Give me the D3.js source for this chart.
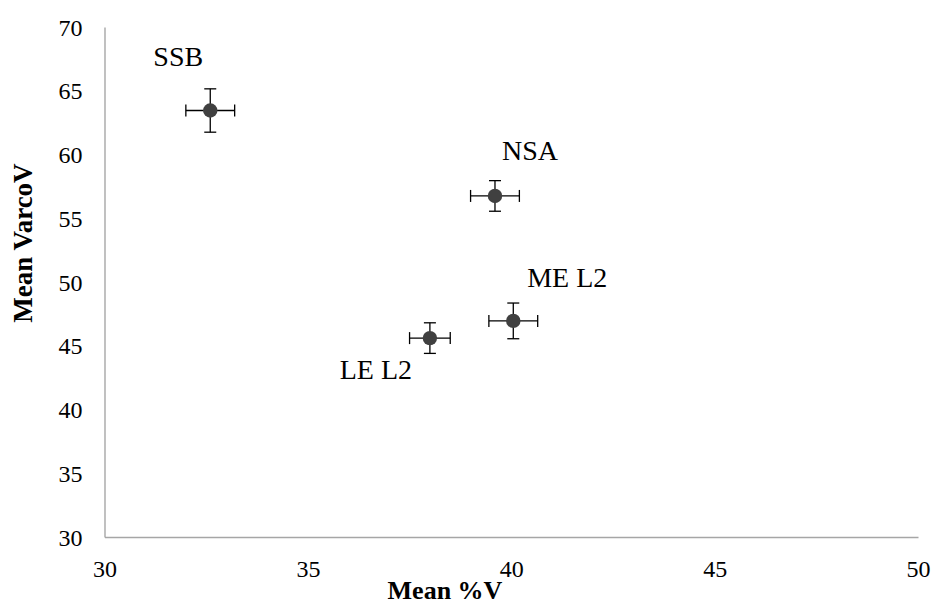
<!DOCTYPE html>
<html>
<head>
<meta charset="utf-8">
<script src="https://cdn.jsdelivr.net/npm/d3@7"></script>
<style>
  body { margin: 0; background: #fff; }
</style>
</head>
<body>
<div id="chart"></div>
<script>
// data
const groups = ["SSB", "NSA", "ME L2", "LE L2"];
const meanV = [32.6, 39.6, 40.05, 38.0];
const meanVarcoV = [63.45, 56.75, 46.95, 45.6];
const errV = [0.6, 0.6, 0.6, 0.5];
const errVarcoV = [1.7, 1.2, 1.4, 1.2];
const xTicks = [30, 35, 40, 45, 50];
const yTicks = [30, 35, 40, 45, 50, 55, 60, 65, 70];

const width = 935, height = 604;
const serif = '"Liberation Serif", "Times New Roman", "DejaVu Serif", serif';

let svg = d3.select("#chart").append("svg")
    .attr("width", width)
    .attr("height", height)
    .style("font-family", serif);

let x = d3.scaleLinear().domain([30, 50]).range([104.5, 918]);
let y = d3.scaleLinear().domain([30, 70]).range([537, 27]);

// axes (no ticks, grey domain line)
let xAxis = svg.append("g")
    .attr("transform", "translate(0," + y(30) + ")")
    .call(d3.axisBottom(x).tickValues(xTicks).tickSize(0).tickFormat(d3.format("d")))
    .attr("font-family", serif);
xAxis.selectAll("text")
    .attr("y", 40).attr("dy", 0)
    .attr("fill", "#000")
    .style("font-family", serif)
    .style("font-size", "24px");

let yAxis = svg.append("g")
    .attr("transform", "translate(" + x(30) + ",0)")
    .call(d3.axisLeft(y).tickValues(yTicks).tickSize(0).tickFormat(d3.format("d")))
    .attr("font-family", serif);
yAxis.selectAll("text")
    .attr("x", -22).attr("dy", "0.34em")
    .attr("fill", "#000")
    .style("font-family", serif)
    .style("font-size", "24px");

svg.selectAll(".domain").attr("stroke", "#a6a6a6").attr("stroke-width", 1.4);

// axis titles
svg.append("text")
    .attr("x", 445).attr("y", 599)
    .attr("text-anchor", "middle")
    .style("font-family", serif)
    .style("font-size", "26px").style("font-weight", "bold")
    .text("Mean %V");

svg.append("text")
    .attr("transform", "translate(32,243) rotate(-90)")
    .attr("text-anchor", "middle")
    .style("font-family", serif)
    .style("font-size", "27px").style("font-weight", "bold")
    .text("Mean VarcoV");

let data = groups.map((g, i) => ({
    name: g, x: meanV[i], y: meanVarcoV[i], ex: errV[i], ey: errVarcoV[i]
}));

// label placement relative to the marker (px)
let labelOffset = {
    "SSB": [-32, -45],
    "NSA": [35, -36],
    "ME L2": [54, -34],
    "LE L2": [-54, 41]
};

let cap = 6;
let pts = svg.append("g").selectAll("g").data(data).enter().append("g");

pts.append("line")
    .attr("x1", d => x(d.x - d.ex)).attr("x2", d => x(d.x + d.ex))
    .attr("y1", d => y(d.y)).attr("y2", d => y(d.y));
pts.append("line")
    .attr("x1", d => x(d.x - d.ex)).attr("x2", d => x(d.x - d.ex))
    .attr("y1", d => y(d.y) - cap).attr("y2", d => y(d.y) + cap);
pts.append("line")
    .attr("x1", d => x(d.x + d.ex)).attr("x2", d => x(d.x + d.ex))
    .attr("y1", d => y(d.y) - cap).attr("y2", d => y(d.y) + cap);
pts.append("line")
    .attr("x1", d => x(d.x)).attr("x2", d => x(d.x))
    .attr("y1", d => y(d.y - d.ey)).attr("y2", d => y(d.y + d.ey));
pts.append("line")
    .attr("x1", d => x(d.x) - cap).attr("x2", d => x(d.x) + cap)
    .attr("y1", d => y(d.y - d.ey)).attr("y2", d => y(d.y - d.ey));
pts.append("line")
    .attr("x1", d => x(d.x) - cap).attr("x2", d => x(d.x) + cap)
    .attr("y1", d => y(d.y + d.ey)).attr("y2", d => y(d.y + d.ey));
pts.selectAll("line").attr("stroke", "#000").attr("stroke-width", 1.3);

pts.append("circle")
    .attr("cx", d => x(d.x)).attr("cy", d => y(d.y))
    .attr("r", 7.2)
    .attr("fill", "#404040");

pts.append("text")
    .attr("x", d => x(d.x) + labelOffset[d.name][0])
    .attr("y", d => y(d.y) + labelOffset[d.name][1])
    .attr("text-anchor", "middle")
    .style("font-family", serif)
    .style("font-size", "28px")
    .text(d => d.name);
</script>
</body>
</html>
